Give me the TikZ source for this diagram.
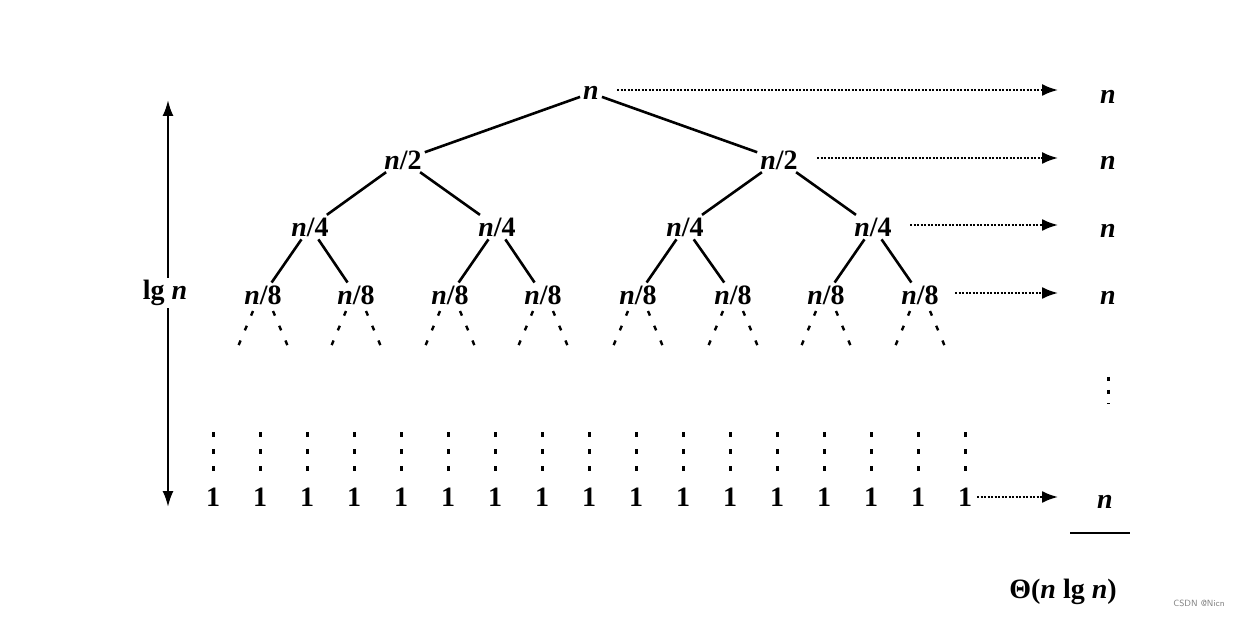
\documentclass[tikz,border=0pt]{standalone}
\usepackage{fontspec}
\setmainfont{Liberation Serif}
\usetikzlibrary{arrows.meta}
\newcommand\myn{\textit{n}}
\begin{document}
\begin{tikzpicture}[x=1pt,y=-1pt,
  lbl/.style={font=\fontsize{28}{32}\selectfont\bfseries, inner sep=2pt},
  edge/.style={line width=2.6pt, shorten >=1pt, shorten <=1pt},
  sum/.style={line width=2pt, dash pattern=on 2.2pt off 1.3pt, -{Latex[length=16pt,width=12pt]}},
  ext/.style={line width=2.4pt, dash pattern=on 5pt off 11pt},
  leafdots/.style={line width=3pt, dash pattern=on 5pt off 12pt},
  height/.style={line width=2.2pt, -{Latex[length=16pt,width=11pt]}}]
\useasboundingbox (0,0) rectangle (1242,617);

% tree
\node[lbl] (r) at (591,93) {\myn};
\node[lbl] (a1) at (403,160) {\myn/2};
\node[lbl] (a2) at (779,160) {\myn/2};
\foreach \i/\x in {1/310,2/497,3/685,4/873}
  \node[lbl] (b\i) at (\x,227) {\myn/4};
\foreach \i/\x in {1/263,2/356,3/450,4/543,5/638,6/733,7/826,8/920}
  \node[lbl] (c\i) at (\x,295) {\myn/8};

\draw[edge] (r) -- (a1);
\draw[edge] (r) -- (a2);
\draw[edge] (a1) -- (b1);
\draw[edge] (a1) -- (b2);
\draw[edge] (a2) -- (b3);
\draw[edge] (a2) -- (b4);
\foreach \p/\l/\q in {1/1/2,2/3/4,3/5/6,4/7/8}{
  \draw[edge] (b\p) -- (c\l);
  \draw[edge] (b\p) -- (c\q);
}
\foreach \i in {1,...,8}{
  \draw[ext] ([xshift=-10pt,yshift=-16pt]c\i.center) -- ++(-16,38);
  \draw[ext] ([xshift=10pt,yshift=-16pt]c\i.center) -- ++(16,38);
}

% leaves
\foreach \i in {1,...,17}{
  \node[lbl] (l\i) at ({213+(\i-1)*47},497) {1};
  \draw[leafdots] ({213+(\i-1)*47},432) -- ({213+(\i-1)*47},472);
}

% right column
\node[lbl] (s1) at (1108,97) {\myn};
\node[lbl] (s2) at (1108,163) {\myn};
\node[lbl] (s3) at (1108,231) {\myn};
\node[lbl] (s4) at (1108,298) {\myn};
\node[lbl] (s5) at (1105,502) {\myn};
\draw[line width=3pt, dash pattern=on 4pt off 9pt] (1108,377) -- (1108,404);

\coordinate (e1) at (1058,90);
\coordinate (e2) at (1058,158);
\coordinate (e3) at (1058,225);
\coordinate (e4) at (1058,293);
\coordinate (e5) at (1058,497);
\draw[sum] (617,90) -- (e1);
\draw[sum] (817,158) -- (e2);
\draw[sum] (910,225) -- (e3);
\draw[sum] (955,293) -- (e4);
\draw[sum] (977,497) -- (e5);

\coordinate (t1) at (1070,533);
\coordinate (t2) at (1130,533);
\draw[line width=2.2pt] (t1) -- (t2);
\node[lbl] (tot) at (1063,592) {Θ(\myn\ lg \myn)};

% height
\node[lbl] (lg) at (165,293) {lg \myn};
\coordinate (h1) at (168,100);
\coordinate (h2) at (168,507);
\draw[height] ([xshift=3pt]lg.north) -- (h1);
\draw[height] ([xshift=3pt]lg.south) -- (h2);

\node[font=\fontsize{9}{10}\sffamily, text=gray] (wm) at (1199,603) {CSDN @Nicn};
\end{tikzpicture}
\end{document}
